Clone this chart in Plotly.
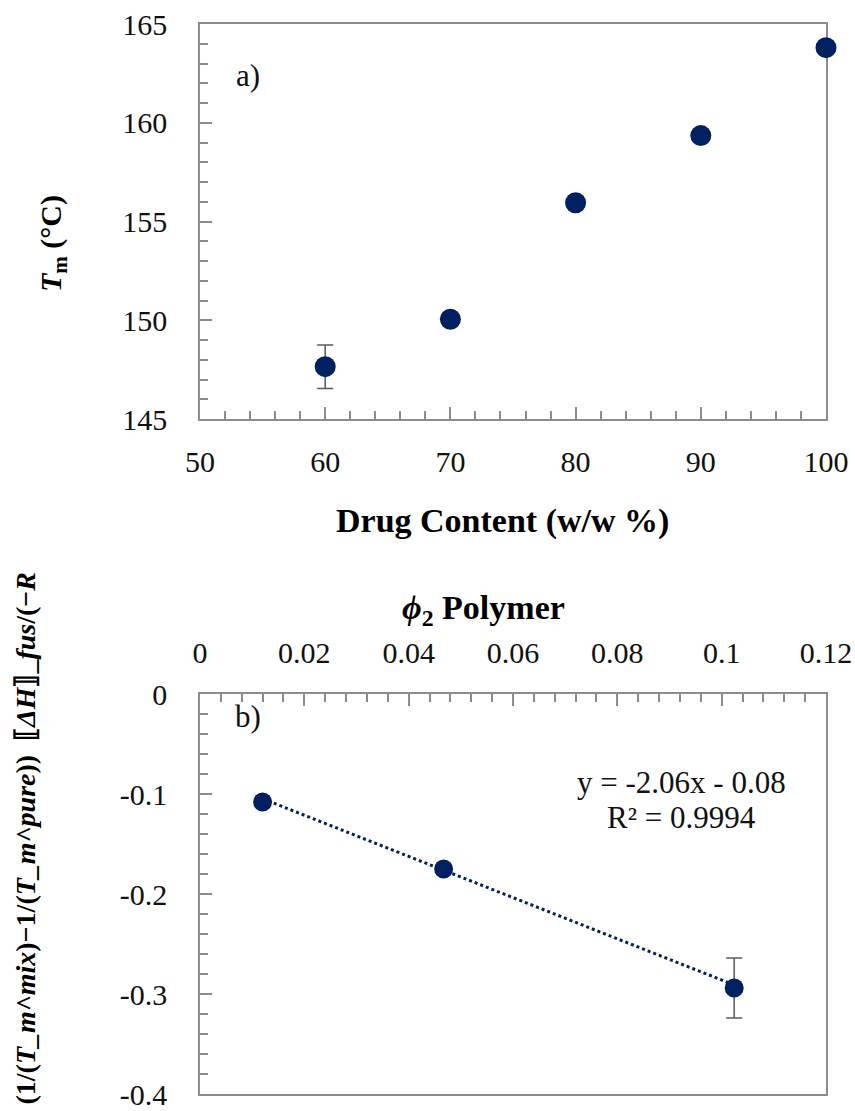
import plotly.graph_objects as go

W, H = 855, 1111

# ---- panel a data ----
drug_content = [60, 70, 80, 90, 100]
tm_values = [147.65, 150.05, 155.95, 159.35, 163.8]
tm_errors = [1.1, 0, 0, 0, 0]

# ---- panel b data ----
phi2 = [0.012, 0.0467, 0.1024]
fh_values = [-0.108, -0.175, -0.294]
fh_errors = [0, 0, 0.03]
fit_slope = -2.06
fit_intercept = -0.08

# tick labels
xa_ticks = [50, 60, 70, 80, 90, 100]
ya_ticks = [145, 150, 155, 160, 165]
xb_ticks = [0, 0.02, 0.04, 0.06, 0.08, 0.1, 0.12]
xb_labels = ["0", "0.02", "0.04", "0.06", "0.08", "0.1", "0.12"]
yb_ticks = [0, -0.1, -0.2, -0.3, -0.4]
yb_labels = ["0", "-0.1", "-0.2", "-0.3", "-0.4"]

NAVY = "#002060"
GRAY = "#8c8c8c"
FONT = "Liberation Serif"


def px_x(p):
    return p / W


def px_y(p):
    return 1 - p / H


fig = go.Figure()

fig.add_trace(go.Scatter(
    x=drug_content, y=tm_values, mode="markers",
    marker=dict(size=21, color=NAVY),
    error_y=dict(type="data", array=tm_errors, visible=True, color="#595959",
                 thickness=1.5, width=8),
    xaxis="x", yaxis="y", cliponaxis=False, showlegend=False))

x_fit = [min(phi2), max(phi2)]
y_fit = [fit_slope * v + fit_intercept for v in x_fit]
fig.add_trace(go.Scatter(
    x=x_fit, y=y_fit, mode="lines",
    line=dict(color=NAVY, width=3, dash="dot"),
    xaxis="x2", yaxis="y2", showlegend=False))

fig.add_trace(go.Scatter(
    x=phi2, y=fh_values, mode="markers",
    marker=dict(size=19, color=NAVY),
    error_y=dict(type="data", array=fh_errors, visible=True, color="#595959",
                 thickness=1.5, width=8),
    xaxis="x2", yaxis="y2", cliponaxis=False, showlegend=False))

axis_common = dict(
    showline=True, linecolor=GRAY, linewidth=1.5, mirror=True,
    ticks="inside", ticklen=12, tickwidth=1.5, tickcolor=GRAY,
    showgrid=False, zeroline=False, layer="below traces", automargin=False,
    ticklabeloverflow="allow",
    tickfont=dict(family=FONT, size=30, color="#111111"),
)
minor_common = dict(ticks="inside", ticklen=8, tickwidth=1.5, tickcolor=GRAY,
                    showgrid=False)

top_dom_x = [px_x(200), px_x(826)]
top_dom_y = [px_y(419), px_y(24)]
bot_dom_y = [px_y(1094), px_y(694)]

fig.update_layout(
    width=W, height=H, autosize=False,
    margin=dict(l=0, r=0, t=0, b=0, autoexpand=False),
    paper_bgcolor="white", plot_bgcolor="white",
    xaxis=dict(domain=top_dom_x, range=[50, 100], anchor="y",
               tickmode="array", tickvals=xa_ticks,
               ticktext=[str(v) for v in xa_ticks],
               minor=dict(dtick=2, **minor_common),
               ticklabelstandoff=15, **axis_common),
    yaxis=dict(domain=top_dom_y, range=[145, 165], anchor="x",
               tickmode="array", tickvals=ya_ticks,
               ticktext=[str(v) for v in ya_ticks],
               minor=dict(dtick=1, **minor_common),
               ticklabelstandoff=25, **axis_common),
    xaxis2=dict(domain=top_dom_x, range=[0, 0.12], anchor="y2", side="top",
                tickmode="array", tickvals=xb_ticks, ticktext=xb_labels,
                minor=dict(dtick=0.004, **minor_common),
                ticklabelstandoff=17, **axis_common),
    yaxis2=dict(domain=bot_dom_y, range=[-0.4, 0], anchor="x2",
                tickmode="array", tickvals=yb_ticks, ticktext=yb_labels,
                minor=dict(dtick=0.02, **minor_common),
                ticklabelstandoff=25, **axis_common),
)

ann_font = dict(family=FONT, size=31, color="#111111")
title_font = dict(family=FONT, size=34, color="#000000")


def note(text, x, y, font, angle=0, xa="center", ya="middle"):
    return dict(text=text, x=px_x(x), y=px_y(y), xref="paper", yref="paper",
                xanchor=xa, yanchor=ya, showarrow=False, textangle=angle,
                font=font)


annotations = [
    note("a)", 248, 75, ann_font),
    note("b)", 248, 716, ann_font),
    note("y = -2.06x - 0.08", 681, 782, ann_font),
    note("R² = 0.9994", 681, 817, ann_font),
    note("<b>Drug Content (w/w %)</b>", 502, 521, title_font),
    note("<b><i>ϕ</i><sub>2</sub> Polymer</b>", 484, 610, title_font),
    note("<b><i>T</i><sub>m</sub> (°C)</b>", 53, 244,
         dict(family=FONT, size=30, color="#000000"), angle=-90),
    note("<b>(1/(<i>T_m^mix</i>)−1/(<i>T_m^pure</i>))  ⟦<i>ΔH</i>⟧_<i>fus</i>/(−<i>R</i></b>",
         25, 570, dict(family=FONT, size=28, color="#000000"), angle=-90,
         ya="top"),
]
fig.update_layout(annotations=annotations)

fig.write_html("out.html")
